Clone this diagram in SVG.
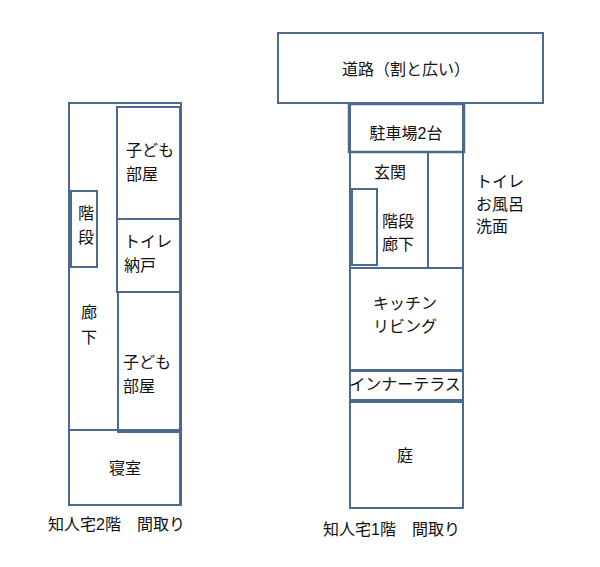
<svg xmlns="http://www.w3.org/2000/svg" width="600" height="567" viewBox="0 0 600 567">
<style>
rect{fill:none;stroke:#4a6a8f;stroke-width:2}
.t{font-family:"Liberation Sans","Noto Sans CJK JP",sans-serif;font-size:16px;fill:#111}
.m{text-anchor:middle}
</style>
<rect x="0" y="0" width="600" height="567" style="fill:#fff;stroke:none"/>
<g id="floor2">
<rect x="69" y="103" width="112" height="402"/>
<g id="kid1"><rect x="117" y="107" width="63" height="112"/><text class="t" x="126" y="156">子ども</text><text class="t" x="126" y="180">部屋</text></g>
<g id="stairs2"><rect x="71" y="191" width="26" height="76"/><text class="t m" x="86" y="219">階</text><text class="t m" x="86" y="243">段</text></g>
<g id="toilet2"><rect x="117" y="219" width="63" height="73"/><text class="t" x="124" y="247">トイレ</text><text class="t" x="124" y="271">納戸</text></g>
<g id="hall2"><text class="t m" x="89" y="318">廊</text><text class="t m" x="89" y="343">下</text></g>
<g id="kid2"><rect x="118" y="292" width="62" height="140"/><text class="t" x="123" y="368">子ども</text><text class="t" x="123" y="392">部屋</text></g>
<g id="bed"><rect x="69" y="430" width="111" height="75"/><text class="t m" x="125" y="474">寝室</text></g>
<text class="t" x="48" y="530">知人宅2階　間取り</text>
</g>
<g id="floor1">
<g id="road"><rect x="278" y="33" width="265" height="70"/><text class="t m" x="406" y="75">道路（割と広い）</text></g>
<rect x="350" y="104" width="113" height="404"/>
<g id="parking"><rect x="349" y="104" width="115" height="48" style="stroke-width:2.5"/><text class="t m" x="406" y="139">駐車場2台</text></g>
<g id="entrance"><rect x="350" y="152" width="78" height="116"/><text class="t m" x="390" y="178">玄関</text></g>
<rect x="428" y="152" width="35" height="116"/>
<g id="stairs1"><rect x="352" y="189" width="25" height="76"/><text class="t" x="382" y="227">階段</text><text class="t" x="382" y="250">廊下</text></g>
<g id="bath"><text class="t" x="476" y="187">トイレ</text><text class="t" x="476" y="210">お風呂</text><text class="t" x="476" y="232">洗面</text></g>
<g id="kitchen"><rect x="350" y="268" width="113" height="102"/><text class="t m" x="405" y="309">キッチン</text><text class="t m" x="405" y="332">リビング</text></g>
<g id="terrace"><rect x="350" y="371" width="113" height="29"/><text class="t m" x="405" y="390">インナーテラス</text></g>
<g id="garden"><rect x="350" y="402" width="113" height="106"/><text class="t m" x="405" y="461">庭</text></g>
<text class="t" x="323" y="535">知人宅1階　間取り</text>
</g>
</svg>
